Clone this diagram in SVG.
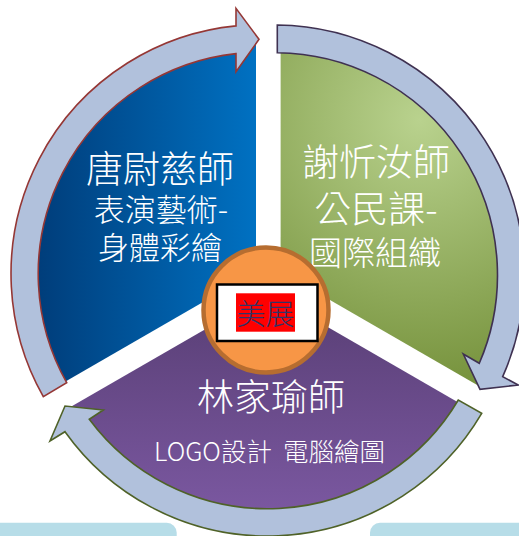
<svg xmlns="http://www.w3.org/2000/svg" width="519" height="536" viewBox="0 0 519 536">
  <defs>
    <linearGradient id="gBlue" gradientUnits="userSpaceOnUse" x1="24" y1="0" x2="256" y2="0">
      <stop offset="0" stop-color="#003A76"/>
      <stop offset="1" stop-color="#0071C2"/>
    </linearGradient>
    <radialGradient id="gGreen" gradientUnits="userSpaceOnUse" cx="420" cy="120" r="270">
      <stop offset="0" stop-color="#B9D28E"/>
      <stop offset="1" stop-color="#76923C"/>
    </radialGradient>
    <linearGradient id="gPurple" gradientUnits="userSpaceOnUse" x1="0" y1="295" x2="0" y2="515">
      <stop offset="0" stop-color="#583E74"/>
      <stop offset="1" stop-color="#7B58A1"/>
    </linearGradient>
    <style>
      .band { fill: #B1C1DC; stroke-width: 1.6; stroke-linejoin: miter; }
      .lbl { font-family: 'Noto Sans CJK TC', 'Noto Sans CJK SC', sans-serif; fill: #FFFFFF; font-weight: 300; text-anchor: middle; }
      .t37 { font-size: 37px; }
      .t31 { font-size: 31px; }
      .t33 { font-size: 33px; }
      .foot { fill: #B7DDE8; }
    </style>
  </defs>

  <g id="bottom-shapes">
    <rect class="foot" x="-12" y="522.7" width="188.7" height="30" rx="10"/>
    <rect class="foot" x="370" y="522.7" width="170" height="30" rx="10"/>
  </g>

  <g id="node-tang">
    <path d="M 256 271.5 L 55.1 387.5 A 232 232 0 0 1 256 39.5 Z" fill="url(#gBlue)"/>
    <text class="lbl t37" x="160" y="182.5">唐尉慈師</text>
    <text class="lbl t31" x="161" y="221">表演藝術-</text>
    <text class="lbl t31" x="160" y="259">身體彩繪</text>
  </g>

  <g id="node-xie">
    <path d="M 280.6 271.5 L 280.6 39.5 A 232 232 0 0 1 481.5 387.5 Z" fill="url(#gGreen)"/>
    <text class="lbl t37" x="376" y="176">謝忻汝師</text>
    <text class="lbl t37" x="376" y="223">公民課-</text>
    <text class="lbl t33" x="375" y="265">國際組織</text>
  </g>

  <g id="node-lin">
    <path d="M 268.3 292.8 L 469.2 408.8 A 232 232 0 0 1 67.4 408.8 Z" fill="url(#gPurple)"/>
    <text class="lbl t37" x="271" y="410.5">林家瑜師</text>
    <text class="lbl" x="154" y="461" style="font-size:25.5px; text-anchor:start; white-space:pre">LOGO設計  <tspan x="283">電腦繪圖</tspan></text>
  </g>

  <g id="connectors">
    <path class="band" stroke="#953735" d="M 43.3 396.7 A 249.3 249.3 0 0 1 236 25.9 L 236 8.3 L 259 39.3 L 236 71.7 L 236 53.6 A 221.7 221.7 0 0 0 66.7 382.7 Z"/>
    <path class="band" stroke="#3F3151" d="M 277.3 25 A 250 250 0 0 1 502.7 376.7 L 518.3 385 L 480 389.3 L 463.3 354 L 479.3 363.3 A 222.5 222.5 0 0 0 277.3 52.7 Z"/>
    <path class="band" stroke="#4F6228" d="M 481.7 413.3 A 248.5 248.5 0 0 1 65 431.7 L 50 441 L 65 406 L 103.3 410 L 89.3 419.3 A 222 222 0 0 0 458.3 400 Z"/>
  </g>

  <g id="node-center">
    <circle cx="266" cy="310" r="62.5" fill="#F79646" stroke="#B66D30" stroke-width="4.5"/>
    <rect x="217" y="284.5" width="100.5" height="56.5" fill="#FFFFFF" stroke="#000000" stroke-width="2.5"/>
    <rect x="236" y="293.3" width="59" height="38.4" fill="#FF0000"/>
    <text x="265.5" y="324.5" style="font-family:'Noto Sans CJK TC','Noto Sans CJK SC',sans-serif; font-size:29px; font-weight:300; fill:#333366; text-anchor:middle">美展</text>
  </g>
</svg>
